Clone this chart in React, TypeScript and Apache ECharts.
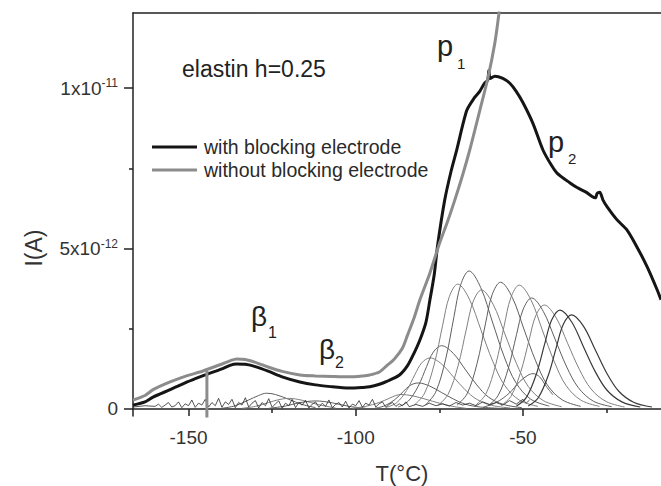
import React, { useEffect, useRef } from "react";
import * as echarts from "echarts";

const FONT = "'Liberation Sans', Arial, sans-serif";

const xMajorTicks = [-150, -100, -50];
const xMinorTicks = [-125, -75, -25];
const yMajorTicks = [0, 5, 10];
const yMinorTicks = [2.5, 7.5];
const yTickLabels: Record<string, string> = { "0": "0", "5": "5x10{sup|-12}", "10": "1x10{sup|-11}" };

const seriesNames = ["with blocking electrode", "without blocking electrode"];

// I in units of 1e-12 A, T in °C
const withBlocking: [number, number][] = [
  [-166.6, 0.12], [-163, 0.22], [-160.6, 0.37], [-155.5, 0.6], [-150.4, 0.84], [-146.6, 1.0], [-144.5, 1.08],
  [-140, 1.25], [-137.6, 1.36], [-135.6, 1.4], [-133, 1.39], [-130, 1.32], [-126, 1.17],
  [-122, 1.0], [-116.7, 0.84], [-112, 0.75], [-107, 0.69], [-103.9, 0.66], [-101.8, 0.65],
  [-97.9, 0.67], [-95.8, 0.69], [-92.9, 0.77], [-90.7, 0.86], [-87, 1.05], [-84.5, 1.35], [-82.5, 1.75],
  [-80.8, 2.15], [-79, 2.7], [-77.8, 3.4], [-76.5, 4.2], [-75.5, 5.1], [-73.4, 6.5],
  [-71.5, 7.4], [-69.8, 8.07], [-66.8, 9.3], [-64.5, 9.7], [-62.9, 9.9], [-61.5, 10.15],
  [-60.5, 10.25], [-60.2, 10.55], [-59.8, 10.3], [-58.4, 10.37], [-56, 10.3], [-53.9, 10.15],
  [-52, 9.9], [-50, 9.55], [-47, 8.9], [-44, 8.07], [-41.5, 7.6], [-39.8, 7.35], [-36, 7.05],
  [-33.8, 6.9], [-31, 6.75], [-29.3, 6.62], [-28.3, 6.58], [-27.8, 6.72], [-27, 6.75],
  [-26, 6.5], [-24.8, 6.3], [-21.9, 5.9], [-18.9, 5.58], [-15.9, 5.05], [-12.8, 4.42],
  [-9.8, 3.7], [-8.7, 3.4],
];

const withoutBlocking: [number, number][] = [
  [-166.6, 0.28], [-163, 0.42], [-160.6, 0.6], [-155.5, 0.84], [-150.4, 1.04], [-146.6, 1.15], [-144.5, 1.23],
  [-140, 1.4], [-137.6, 1.5], [-135.6, 1.56], [-133, 1.54], [-130, 1.45], [-126, 1.3],
  [-122, 1.17], [-116.7, 1.06], [-112, 1.03], [-107, 1.01], [-103.9, 1.0], [-101.8, 1.0],
  [-97.9, 1.03], [-95.8, 1.06], [-92.9, 1.15], [-90.7, 1.35], [-88.5, 1.55], [-86, 1.9], [-84.5, 2.3],
  [-82.5, 2.85], [-80.8, 3.4], [-77.8, 4.24], [-74.9, 5.17], [-72.5, 5.85], [-70.4, 6.5],
  [-68, 7.3], [-65.9, 8.07], [-62.9, 9.3], [-60.5, 10.3], [-58.4, 11.4], [-57.2, 12.3],
  [-56, 13.4],
];

const electrodeMarker: [number, number][] = [[-144.5, -0.3], [-144.5, 1.2]];

const baselineNoise: [number, number][] = [
  [-166.6, 0.06], [-163, 0.1], [-160, 0.08], [-159, 0.15], [-158, 0.05], [-157, 0.12], [-156, 0.2],
  [-155, 0.06], [-154, 0.1], [-153, 0.22], [-152, 0.04], [-151, 0.16], [-150, 0.1], [-149, 0.28],
  [-148, 0.05], [-147, 0.18], [-146, 0.12], [-145, 0.3], [-144, 0.06], [-143, 0.2], [-142, 0.1],
  [-141, 0.33], [-140, 0.05], [-139, 0.22], [-138, 0.14], [-137, 0.3], [-136, 0.04], [-135, 0.2],
  [-134, 0.12], [-133, 0.35], [-132, 0.06], [-131, 0.18], [-130, 0.26], [-129, 0.03], [-128, 0.2],
  [-127, 0.1], [-126, 0.32], [-125, 0.05], [-124, 0.16], [-123, 0.25], [-122, 0.02], [-121, 0.18],
  [-120, 0.1], [-119, 0.3], [-118, 0.04], [-117, 0.2], [-116, 0.12], [-115, 0.27], [-114, 0.03],
  [-113, 0.15], [-112, 0.22], [-111, 0.05], [-110, 0.18], [-109, 0.08], [-108, 0.28], [-107, 0.04],
  [-106, 0.14], [-105, 0.2], [-104, 0.06], [-103, 0.24], [-102, 0.03], [-101, 0.15], [-100, 0.1],
  [-99, 0.26], [-98, 0.05], [-97, 0.18], [-96, 0.12], [-95, 0.3], [-94, 0.06], [-93, 0.16],
  [-92, 0.22], [-91, 0.05], [-90, 0.14], [-89, 0.2], [-88, 0.08], [-87, 0.16], [-86, 0.1],
  [-85, 0.22], [-84, 0.07], [-82, 0.14], [-80, 0.08], [-78, 0.18], [-76, 0.1], [-74, 0.16],
  [-72, 0.09], [-70, 0.2], [-68, 0.12], [-66, 0.18], [-64, 0.1], [-62, 0.22], [-60, 0.14],
  [-58, 0.2], [-56, 0.12], [-54, 0.26], [-52, 0.15], [-50, 0.3], [-49, 0.18], [-48, 0.28],
];

// elementary (deconvoluted) TSDC peaks
const peakA: [number, number][] = [[-94.3, 0.02], [-91.3, 0.1], [-88.3, 0.29], [-85.8, 0.54], [-83.8, 0.73], [-81.3, 0.81], [-77.8, 0.71], [-74.3, 0.51], [-70.8, 0.31], [-67.3, 0.15], [-62.8, 0.06], [-57.3, 0.02]];
const peakB: [number, number][] = [[-90.8, 0.05], [-87.8, 0.19], [-84.8, 0.57], [-82.3, 1.07], [-80.3, 1.43], [-77.8, 1.59], [-74.3, 1.4], [-70.8, 1.0], [-67.3, 0.6], [-63.8, 0.3], [-59.3, 0.11], [-53.8, 0.03]];
const peakC: [number, number][] = [[-87.3, 0.06], [-84.3, 0.24], [-81.3, 0.71], [-78.8, 1.32], [-76.8, 1.77], [-74.3, 1.97], [-70.8, 1.73], [-67.3, 1.24], [-63.8, 0.75], [-60.3, 0.37], [-55.8, 0.14], [-50.3, 0.04]];
const peakD: [number, number][] = [[-82.5, 0.12], [-79.5, 0.47], [-76.5, 1.4], [-74, 2.61], [-72, 3.5], [-69.5, 3.89], [-66, 3.42], [-62.5, 2.45], [-59, 1.48], [-55.5, 0.74], [-51, 0.27], [-45.5, 0.08]];
const peakE: [number, number][] = [[-79.1, 0.13], [-76.1, 0.52], [-73.1, 1.55], [-70.6, 2.88], [-68.6, 3.87], [-66.1, 4.3], [-62.6, 3.78], [-59.1, 2.71], [-55.6, 1.63], [-52.1, 0.82], [-47.6, 0.3], [-42.1, 0.09]];
const peakF: [number, number][] = [[-75.4, 0.11], [-72.4, 0.45], [-69.4, 1.34], [-66.9, 2.49], [-64.9, 3.34], [-62.4, 3.71], [-58.9, 3.26], [-55.4, 2.34], [-51.9, 1.41], [-48.4, 0.7], [-43.9, 0.26], [-38.4, 0.07]];
const peakG: [number, number][] = [[-69.7, 0.12], [-66.7, 0.47], [-63.7, 1.42], [-61.2, 2.65], [-59.2, 3.56], [-56.7, 3.95], [-53.2, 3.48], [-49.7, 2.49], [-46.2, 1.5], [-42.7, 0.75], [-38.2, 0.28], [-32.7, 0.08]];
const peakH: [number, number][] = [[-64.1, 0.12], [-61.1, 0.46], [-58.1, 1.39], [-55.6, 2.59], [-53.6, 3.47], [-51.1, 3.86], [-47.6, 3.4], [-44.1, 2.43], [-40.6, 1.47], [-37.1, 0.73], [-32.6, 0.27], [-27.1, 0.08]];
const peakI: [number, number][] = [[-60.4, 0.1], [-57.4, 0.42], [-54.4, 1.25], [-51.9, 2.32], [-49.9, 3.11], [-47.4, 3.46], [-43.9, 3.04], [-40.4, 2.18], [-36.9, 1.31], [-33.4, 0.66], [-28.9, 0.24], [-23.4, 0.07]];
const peakJ: [number, number][] = [[-56.6, 0.1], [-53.6, 0.39], [-50.6, 1.17], [-48.1, 2.17], [-46.1, 2.92], [-43.6, 3.24], [-40.1, 2.85], [-36.6, 2.04], [-33.1, 1.23], [-29.6, 0.62], [-25.1, 0.23], [-19.6, 0.06]];
const peakK: [number, number][] = [[-51.9, 0.09], [-48.9, 0.37], [-45.9, 1.11], [-43.4, 2.06], [-41.4, 2.77], [-38.9, 3.08], [-35.4, 2.71], [-31.9, 1.94], [-28.4, 1.17], [-24.9, 0.59], [-20.4, 0.22], [-14.9, 0.06]];
const peakL: [number, number][] = [[-48.4, 0.09], [-45.4, 0.35], [-42.4, 1.05], [-39.9, 1.96], [-37.9, 2.64], [-35.4, 2.93], [-31.9, 2.58], [-28.4, 1.85], [-24.9, 1.11], [-21.4, 0.56], [-16.9, 0.21], [-11.4, 0.06]];
const peakP: [number, number][] = [[-101, 0.02], [-97, 0.08], [-93, 0.2], [-90, 0.33], [-88, 0.42], [-86.5, 0.45], [-83, 0.41], [-79, 0.3], [-75, 0.18], [-71, 0.08], [-67, 0.02]];
const peakR: [number, number][] = [[-62, 0.05], [-58, 0.2], [-54, 0.5], [-51, 0.85], [-48.5, 1.05], [-47, 1.1], [-45, 1.0], [-43, 0.7], [-41, 0.44]];
const peakM: [number, number][] = [[-140, 0.02], [-136, 0.1], [-132, 0.28], [-129, 0.42], [-126.7, 0.49], [-124, 0.45], [-120, 0.3], [-116, 0.14], [-112, 0.04]];
const peakN: [number, number][] = [[-134, 0.02], [-130, 0.08], [-126, 0.2], [-123, 0.29], [-120, 0.33], [-116, 0.27], [-111, 0.13], [-106, 0.03]];
const peakO: [number, number][] = [[-126, 0.02], [-121, 0.09], [-117, 0.19], [-112, 0.25], [-107, 0.19], [-102, 0.08], [-97, 0.02]];

const elementaryPeaks = [peakM, peakN, peakO, peakP, peakA, peakB, peakC, peakD, peakE, peakF, peakG, peakH, peakI, peakJ, peakR];
const noisyPeaks = [peakK, peakL];

export default function App() {
  const ref = useRef<HTMLDivElement>(null);
  useEffect(() => {
    if (!ref.current) return;
    const chart = echarts.init(ref.current, undefined, { renderer: "svg" });
    const X_MIN = -166.6, X_MAX = -8.7, Y_MIN = -0.22, Y_MAX = 12.34;
    const axisColor = "#222";
    const thin = (d: [number, number][], color: string, w = 1) => ({
      type: "line", data: d, showSymbol: false, symbol: "none", smooth: 0.35,
      lineStyle: { color, width: w }, z: 2, silent: true,
    });
    const option: any = {
      animation: false,
      grid: { left: 133, top: 13, right: 0, bottom: 70 },
      xAxis: [
        {
          type: "value", min: X_MIN, max: X_MAX, position: "bottom",
          axisLine: { show: true, lineStyle: { color: axisColor, width: 1.5 } },
          axisTick: { show: true, inside: false, length: 7, customValues: xMajorTicks, lineStyle: { color: axisColor, width: 1.5 } },
          axisLabel: { customValues: xMajorTicks, fontSize: 19, fontFamily: FONT, color: "#333", margin: 12 },
          splitLine: { show: false },
        },
        {
          type: "value", min: X_MIN, max: X_MAX, position: "bottom",
          axisLine: { show: false },
          axisTick: { show: true, length: 4, customValues: xMinorTicks, lineStyle: { color: axisColor, width: 1.5 } },
          axisLabel: { show: false },
          splitLine: { show: false },
        },
        {
          type: "value", min: X_MIN, max: X_MAX, position: "top",
          axisLine: { show: true, lineStyle: { color: axisColor, width: 1.5 } },
          axisTick: { show: false }, axisLabel: { show: false }, splitLine: { show: false },
        },
      ],
      yAxis: [
        {
          type: "value", min: Y_MIN, max: Y_MAX, position: "left",
          axisLine: { show: true, lineStyle: { color: axisColor, width: 1.5 } },
          axisTick: { show: true, length: 9, customValues: yMajorTicks, lineStyle: { color: axisColor, width: 1.5 } },
          axisLabel: {
            customValues: yMajorTicks, fontSize: 19, fontFamily: FONT, color: "#333", margin: 15, lineHeight: 22,
            formatter: (v: number) => yTickLabels[String(v)] ?? "",
            rich: { sup: { fontSize: 12, fontFamily: FONT, color: "#333", verticalAlign: "top", lineHeight: 12 } },
          },
          splitLine: { show: false },
        },
        {
          type: "value", min: Y_MIN, max: Y_MAX, position: "left",
          axisLine: { show: false },
          axisTick: { show: true, length: 4, customValues: yMinorTicks, lineStyle: { color: axisColor, width: 1.5 } },
          axisLabel: { show: false }, splitLine: { show: false },
        },
      ],
      legend: {
        data: [
          { name: seriesNames[0], icon: "rect", itemStyle: { color: "#151515" } },
          { name: seriesNames[1], icon: "rect", itemStyle: { color: "#8c8c8c" } },
        ],
        orient: "vertical", left: 152, top: 137, padding: 0, itemWidth: 45, itemHeight: 3, itemGap: 3,
        textStyle: { fontSize: 19.5, fontFamily: FONT, color: "#2a2a2a", lineHeight: 19, padding: [0, 0, 0, 2] },
        selectedMode: false,
      },
      graphic: [
        { type: "text", x: 182, y: 69, style: { text: "elastin h=0.25", fontSize: 23, fontFamily: FONT, fill: "#222", verticalAlign: "middle" } },
        { type: "text", x: 437, y: 46, style: { text: "p", fontSize: 29, fontFamily: FONT, fill: "#222", verticalAlign: "middle" } },
        { type: "text", x: 457, y: 63, style: { text: "1", fontSize: 15, fontFamily: FONT, fill: "#222", verticalAlign: "middle" } },
        { type: "text", x: 548, y: 142, style: { text: "p", fontSize: 29, fontFamily: FONT, fill: "#222", verticalAlign: "middle" } },
        { type: "text", x: 568, y: 158, style: { text: "2", fontSize: 15, fontFamily: FONT, fill: "#222", verticalAlign: "middle" } },
        { type: "text", x: 251, y: 316, style: { text: "β", fontSize: 28, fontFamily: FONT, fill: "#222", verticalAlign: "middle" } },
        { type: "text", x: 268, y: 332, style: { text: "1", fontSize: 16, fontFamily: FONT, fill: "#222", verticalAlign: "middle" } },
        { type: "text", x: 319, y: 349, style: { text: "β", fontSize: 28, fontFamily: FONT, fill: "#222", verticalAlign: "middle" } },
        { type: "text", x: 335, y: 362, style: { text: "2", fontSize: 16, fontFamily: FONT, fill: "#222", verticalAlign: "middle" } },
        { type: "text", x: 34, y: 248, rotation: Math.PI / 2, style: { text: "I(A)", fontSize: 23, fontFamily: FONT, fill: "#333", align: "center", verticalAlign: "middle" } },
        { type: "text", x: 402, y: 473, style: { text: "T(°C)", fontSize: 22, fontFamily: FONT, fill: "#333", align: "center", verticalAlign: "middle" } },
      ],
      series: [
        ...elementaryPeaks.map((d, i) => thin(d, i % 2 === 0 ? "#5f5f5f" : "#808080", 1)),
        ...noisyPeaks.map((d) => thin(d, "#3a3a3a", 1.2)),
        { type: "line", data: baselineNoise, showSymbol: false, symbol: "none", lineStyle: { color: "#2a2a2a", width: 0.8 }, z: 3, silent: true },
        { name: seriesNames[0], type: "line", data: withBlocking, showSymbol: false, symbol: "none", smooth: 0.25, lineStyle: { color: "#151515", width: 3 }, itemStyle: { color: "#151515" }, z: 5 },
        { name: seriesNames[1], type: "line", data: withoutBlocking, showSymbol: false, symbol: "none", smooth: 0.25, lineStyle: { color: "#8c8c8c", width: 3 }, itemStyle: { color: "#8c8c8c" }, z: 6 },
        { type: "line", data: electrodeMarker, showSymbol: false, symbol: "none", lineStyle: { color: "#8c8c8c", width: 3 }, z: 6, silent: true },
      ],
    };
    chart.setOption(option);
    return () => chart.dispose();
  }, []);
  return <div ref={ref} style={{ position: "fixed", left: 0, top: 0, width: 661, height: 486, background: "#fff" }} />;
}
